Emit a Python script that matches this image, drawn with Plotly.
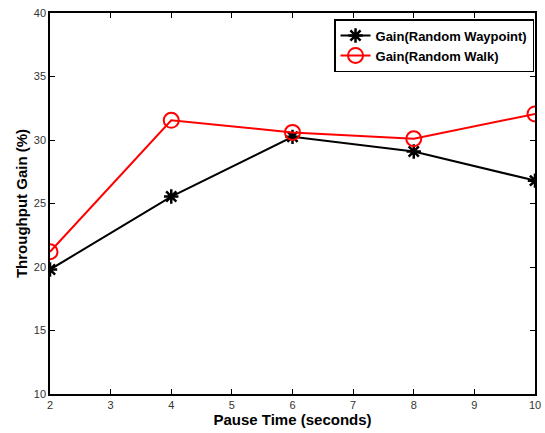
import plotly.graph_objects as go

pause_time = [2, 4, 6, 8, 10]
gain_waypoint = [19.8, 25.55, 30.25, 29.1, 26.8]
gain_walk = [21.2, 31.55, 30.6, 30.1, 32.05]
series_names = ["Gain(Random Waypoint)", "Gain(Random Walk)"]

FONT = "Liberation Sans, Arial"

fig = go.Figure()
fig.add_trace(go.Scatter(
    x=pause_time, y=gain_waypoint, mode="lines+markers",
    name="<b>" + series_names[0] + "</b>",
    line=dict(color="black", width=2),
    marker=dict(symbol="asterisk-open", size=12, color="black",
                line=dict(color="black", width=2.5)),
))
fig.add_trace(go.Scatter(
    x=pause_time, y=gain_walk, mode="lines+markers",
    name="<b>" + series_names[1] + "</b>",
    line=dict(color="red", width=2),
    marker=dict(symbol="circle-open", size=15, color="red",
                line=dict(color="red", width=2)),
))

axis_common = dict(
    showgrid=False, zeroline=False, showline=True, linecolor="black",
    linewidth=1.5, mirror="ticks", ticks="inside", ticklen=5,
    tickcolor="black", automargin=False,
    tickfont=dict(family=FONT, size=11, color="#333"),
)
fig.update_xaxes(range=[2, 10], dtick=1, tick0=2,
                 title=dict(text="<b>Pause Time (seconds)</b>", standoff=4,
                            font=dict(family=FONT, size=15, color="black")),
                 **axis_common)
fig.update_yaxes(range=[10, 40], dtick=5,
                 title=dict(text="<b>Throughput Gain (%)</b>", standoff=3,
                            font=dict(family=FONT, size=15, color="black")),
                 **axis_common)

fig.update_layout(
    width=545, height=433,
    margin=dict(l=50, r=10, t=13, b=39),
    plot_bgcolor="white", paper_bgcolor="white",
    font=dict(family=FONT),
    showlegend=True,
    legend=dict(x=0.5856, y=0.984, xanchor="left", yanchor="top",
                bordercolor="black", borderwidth=1.5, bgcolor="white",
                font=dict(size=13, color="black", family=FONT),
                tracegroupgap=0, itemwidth=30),
)

fig.write_html("out.html")
